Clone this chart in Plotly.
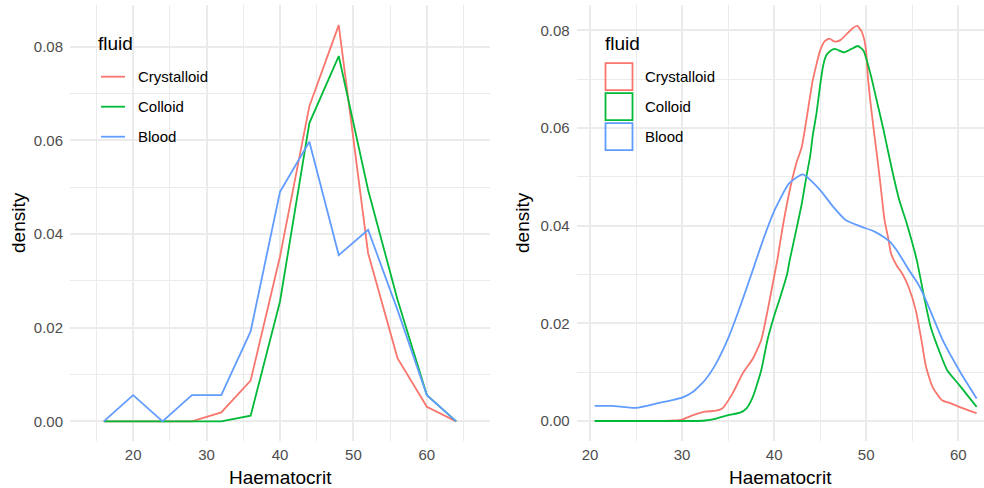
import plotly.graph_objects as go

# ---------------- data ----------------
fluids = ["Crystalloid", "Colloid", "Blood"]
colors = ["#F8766D", "#00BA38", "#619CFF"]

# left: frequency polygon (density) at bin centres
hct_bins = [16, 20, 24, 28, 32, 36, 40, 44, 48, 52, 56, 60, 64]
cryst_freq = [0, 0, 0, 0, 0.0019, 0.0087, 0.0352, 0.0673, 0.0846, 0.0359, 0.0135, 0.0031, 0]
colloid_freq = [0, 0, 0, 0, 0, 0.0012, 0.0256, 0.0637, 0.0780, 0.0494, 0.0260, 0.0056, 0]
blood_freq = [0, 0.0056, 0, 0.0056, 0.0056, 0.0192, 0.0490, 0.0597, 0.0355, 0.0409, 0.0238, 0.0056, 0]

# right: kernel density estimates
cryst_x = [20.5, 24, 27, 29, 30, 31.2, 32.5, 33.7, 34.4, 35.5, 36.6, 37.7, 38.6, 39.3, 40, 40.35,
           40.6, 41.0, 41.7, 42.4, 43.0, 43.5, 44.2, 45.0, 45.5, 46.0, 46.6, 47.2, 47.9, 48.5,
           49.03, 49.5, 49.8, 50.0, 50.2, 50.5, 50.8, 51.1, 51.5, 52.0, 52.4, 52.7, 53.3, 54.0,
           54.6, 55.4, 56.0, 56.5, 57.2, 58.2, 59.2, 60.1, 62]
cryst_y = [0, 0, 0, 0.0001, 0.0003, 0.0012, 0.0019, 0.0021, 0.0026, 0.0057, 0.0098, 0.0128, 0.0166,
           0.0227, 0.0296, 0.0330, 0.0360, 0.0405, 0.0473, 0.0527, 0.0561, 0.0616, 0.0698, 0.0759,
           0.0778, 0.0783, 0.0777, 0.0780, 0.0793, 0.0804, 0.0809, 0.0798, 0.0780, 0.0756, 0.0701,
           0.0647, 0.0600, 0.0555, 0.0493, 0.0411, 0.0374, 0.0343, 0.0319, 0.0299, 0.0275,
           0.0226, 0.0166, 0.0111, 0.0070, 0.0043, 0.0036, 0.0029, 0.0016]

colloid_x = [20.5, 25, 31, 32.5, 33.7, 35, 36.3, 37, 37.7, 38.6, 39.3, 40, 40.6, 41.4, 41.7, 42.4,
             43.0, 43.5, 43.9, 44.2, 44.6, 45.05, 45.35, 45.7, 46.1, 46.6, 47.6, 48.4, 49.1, 49.7,
             50.06, 50.6, 51.1, 51.85, 52.2, 52.9, 53.6, 54.4, 55.5, 56.4, 57.0, 57.9, 58.8, 60.1, 62]
colloid_y = [0, 0, 0, 0.0001, 0.0005, 0.0012, 0.0017, 0.0026, 0.0050, 0.0104, 0.0168, 0.0215, 0.0250,
             0.0300, 0.0330, 0.0391, 0.0445, 0.0500, 0.0541, 0.0585, 0.0630, 0.0695, 0.0730, 0.0750,
             0.0758, 0.0762, 0.0755, 0.0762, 0.0768, 0.0759, 0.0739, 0.0701, 0.0660, 0.0599, 0.0568,
             0.0507, 0.0452, 0.0405, 0.0329, 0.0244, 0.0193, 0.0145, 0.0104, 0.0074, 0.0029]

blood_x = [20.5, 22.4, 25, 27.5, 30, 31.2, 32.5, 33.7, 35, 36.3, 37.5, 38.8, 40, 41.6, 43.1, 45,
           46.4, 47.8, 49.3, 50.8, 51.9, 52.6, 53.3, 54.0, 54.75, 55.5, 56.2, 56.9, 58.3, 60.1, 62]
blood_y = [0.0031, 0.0031, 0.0027, 0.0037, 0.0048, 0.0060, 0.0084, 0.0118, 0.0169, 0.0234, 0.0299,
           0.0371, 0.0430, 0.0486, 0.0505, 0.0473, 0.0439, 0.0411, 0.0399, 0.0389, 0.0377, 0.0367,
           0.0350, 0.0329, 0.0306, 0.0285, 0.0260, 0.0229, 0.0166, 0.0104, 0.0046]

x_ticks = [20, 30, 40, 50, 60]
y_ticks = [0.00, 0.02, 0.04, 0.06, 0.08]

# ---------------- figure ----------------
W, H = 984, 488
FONT = "Liberation Sans, Arial, Helvetica, sans-serif"
GRID = "#EBEBEB"

fig = go.Figure()

freq_series = [cryst_freq, colloid_freq, blood_freq]
for name, col, ys in zip(fluids, colors, freq_series):
    fig.add_trace(go.Scatter(x=hct_bins, y=ys, mode="lines", name=name,
                             line=dict(color=col, width=1.8), showlegend=False,
                             xaxis="x", yaxis="y"))

dens_series = [(cryst_x, cryst_y), (colloid_x, colloid_y), (blood_x, blood_y)]
for name, col, (xs, ys) in zip(fluids, colors, dens_series):
    fig.add_trace(go.Scatter(x=xs, y=ys, mode="lines", name=name,
                             line=dict(color=col, width=1.8, shape="spline", smoothing=0.5),
                             showlegend=False, xaxis="x2", yaxis="y2"))


def px_x(p):
    return p / W


def px_y(p):
    return 1 - p / H


ydom = [px_y(441), px_y(5)]

common_x = dict(showline=False, ticks="", zeroline=False, showgrid=True, gridcolor=GRID, gridwidth=1.6,
                tickvals=x_ticks, ticktext=[str(v) for v in x_ticks],
                tickfont=dict(family=FONT, size=15, color="#4D4D4D"),
                minor=dict(dtick=5, tick0=0, showgrid=True, gridcolor=GRID, gridwidth=0.8),
                ticklabelstandoff=3)
common_y = dict(showline=False, ticks="", zeroline=False, showgrid=True, gridcolor=GRID, gridwidth=1.6,
                tickvals=y_ticks, ticktext=["%.2f" % v for v in y_ticks],
                tickfont=dict(family=FONT, size=15, color="#4D4D4D"),
                minor=dict(dtick=0.01, tick0=0, showgrid=True, gridcolor=GRID, gridwidth=0.8),
                ticklabelstandoff=6, domain=ydom)

fig.update_layout(
    width=W, height=H,
    margin=dict(l=0, r=0, t=0, b=0),
    paper_bgcolor="white", plot_bgcolor="white",
    font=dict(family=FONT, size=15, color="black"),
    showlegend=False,
    xaxis=dict(domain=[px_x(70), px_x(490)], range=[11.4, 68.6], anchor="y", **common_x),
    yaxis=dict(range=[-0.0042, 0.0889], anchor="x", **common_y),
    xaxis2=dict(domain=[px_x(576.7), 1.0], range=[18.55, 62.8], anchor="y2", **common_x),
    yaxis2=dict(range=[-0.0041, 0.0852], anchor="x2", **common_y),
)

annotations = []
shapes = []

# axis titles
for cx in [280, 780]:
    annotations.append(dict(text="Haematocrit", x=px_x(cx), y=px_y(477), xref="paper", yref="paper",
                            xanchor="center", yanchor="middle", showarrow=False,
                            font=dict(family=FONT, size=19, color="black")))
for cx in [18, 522]:
    annotations.append(dict(text="density", x=px_x(cx), y=px_y(223), xref="paper", yref="paper",
                            xanchor="center", yanchor="middle", showarrow=False, textangle=-90,
                            font=dict(family=FONT, size=19, color="black")))

# legends
item_y = [76.7, 106.7, 136.7]
for lx, kind in [(96, "line"), (603, "box")]:
    annotations.append(dict(text="fluid", x=px_x(lx), y=px_y(43), xref="paper", yref="paper",
                            xanchor="left", yanchor="middle", showarrow=False,
                            font=dict(family=FONT, size=19, color="black")))
    for name, col, yy in zip(fluids, colors, item_y):
        if kind == "line":
            shapes.append(dict(type="line", xref="paper", yref="paper",
                               x0=px_x(101), x1=px_x(125), y0=px_y(yy), y1=px_y(yy),
                               line=dict(color=col, width=1.8)))
            tx = 136
        else:
            shapes.append(dict(type="rect", xref="paper", yref="paper",
                               x0=px_x(605.5), x1=px_x(632.5), y0=px_y(yy - 13.5), y1=px_y(yy + 13.5),
                               line=dict(color=col, width=1.8), fillcolor="rgba(0,0,0,0)"))
            tx = 643
        annotations.append(dict(text=name, x=px_x(tx), y=px_y(yy), xref="paper", yref="paper",
                                xanchor="left", yanchor="middle", showarrow=False,
                                font=dict(family=FONT, size=15, color="black")))

fig.update_layout(annotations=annotations, shapes=shapes)

fig.write_html("out.html")
